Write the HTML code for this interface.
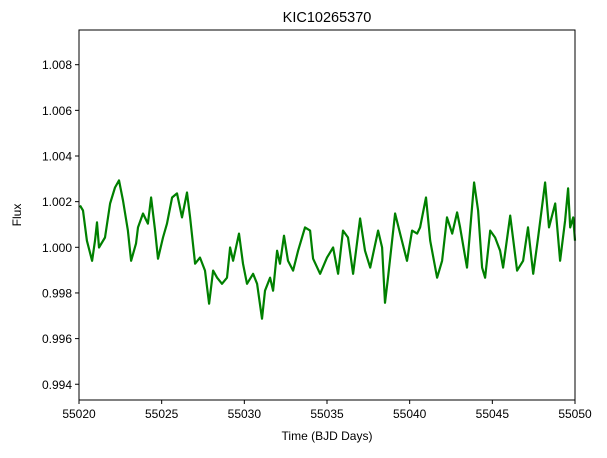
<!DOCTYPE html>
<html><head><meta charset="utf-8"><style>
body{margin:0;background:#fff;}
svg text{font-family:"Liberation Sans","DejaVu Sans",sans-serif;fill:#000;}
</style></head><body>
<svg id="chart" width="607" height="453" viewBox="0 0 607 453">
<rect width="607" height="453" fill="#fff"/>
<text x="327" y="22" font-size="14.5" text-anchor="middle">KIC10265370</text>
<text x="327" y="440" font-size="12" text-anchor="middle">Time (BJD Days)</text>
<text transform="translate(21,215) rotate(-90)" font-size="12" text-anchor="middle">Flux</text>
<g id="plot"></g>
</svg>
<script>
const days=[0.06,0.24,0.48,0.79,0.97,1.09,1.21,1.57,1.88,2.18,2.42,2.66,2.96,3.15,3.45,3.57,3.87,4.17,4.36,4.60,4.78,5.08,5.32,5.63,5.93,6.23,6.53,6.72,7.02,7.32,7.62,7.87,8.11,8.35,8.65,8.95,9.14,9.32,9.68,9.92,10.16,10.53,10.77,11.07,11.25,11.56,11.74,11.98,12.16,12.40,12.64,12.95,13.25,13.67,13.98,14.16,14.58,15.00,15.37,15.67,15.97,16.27,16.58,17.00,17.30,17.61,18.09,18.33,18.51,18.69,19.12,19.42,19.84,20.15,20.45,20.63,20.99,21.24,21.66,21.96,22.26,22.57,22.87,23.05,23.47,23.90,24.14,24.38,24.56,24.87,25.17,25.47,25.65,26.08,26.50,26.86,27.16,27.47,27.77,28.19,28.43,28.80,29.10,29.40,29.58,29.71,29.89,30.00];
const flux=[1.00183,1.00161,1.00029,0.99941,1.00029,1.00109,0.99999,1.00043,1.00192,1.00262,1.00293,1.00205,1.00073,0.99941,1.00016,1.00087,1.00148,1.00104,1.00218,1.00073,0.99950,1.00043,1.00104,1.00218,1.00236,1.00131,1.00240,1.00131,0.99928,0.99955,0.99898,0.99753,0.99898,0.99867,0.99840,0.99867,0.99999,0.99941,1.00060,0.99928,0.99840,0.99884,0.99840,0.99687,0.99810,0.99867,0.99810,0.99985,0.99928,1.00051,0.99941,0.99898,0.99985,1.00087,1.00073,0.99950,0.99884,0.99955,0.99999,0.99884,1.00073,1.00043,0.99884,1.00126,0.99985,0.99911,1.00073,0.99999,0.99757,0.99867,1.00148,1.00060,0.99941,1.00073,1.00060,1.00087,1.00218,1.00029,0.99867,0.99941,1.00131,1.00060,1.00153,1.00087,0.99911,1.00284,1.00161,0.99911,0.99867,1.00073,1.00043,0.99985,0.99911,1.00139,0.99898,0.99941,1.00087,0.99884,1.00043,1.00284,1.00087,1.00192,0.99941,1.00117,1.00258,1.00087,1.00131,1.00029];
const xTicks=[55020,55025,55030,55035,55040,55045,55050];
const yTicks=[0.994,0.996,0.998,1.000,1.002,1.004,1.006,1.008];
const t0=55020;
const L=79,R=575,T=30,B=400;
const xMin=55020,xMax=55050,yMin=0.99331,yMax=1.00952;
const sx=v=>L+(v-xMin)/(xMax-xMin)*(R-L);
const sy=v=>B-(v-yMin)/(yMax-yMin)*(B-T);
const NS='http://www.w3.org/2000/svg';
const g=document.getElementById('plot');
function mk(tag,attrs){const e=document.createElementNS(NS,tag);for(const k in attrs)e.setAttribute(k,attrs[k]);g.appendChild(e);return e;}
let d='';
days.forEach((v,i)=>{d+=(i?'L':'M')+sx(t0+v).toFixed(1)+','+sy(flux[i]).toFixed(1);});
const line=mk('path',{d:d,fill:'none',stroke:'#008000','stroke-width':2.2,'stroke-linejoin':'round'});


const frame=mk('rect',{x:L,y:T,width:R-L,height:B-T,fill:'none',stroke:'#000','stroke-width':1});


xTicks.forEach(v=>{
  const x=sx(v);
  const tk=mk('line',{x1:x,x2:x,y1:B,y2:B+4,stroke:'#000'});
  
  
  const tx=mk('text',{x:x,y:B+18,'font-size':12,'text-anchor':'middle'});
  tx.textContent=v;
  
  
});
yTicks.forEach(v=>{
  const y=sy(v);
  const tk=mk('line',{x1:L-4,x2:L,y1:y,y2:y,stroke:'#000'});
  
  
  const tx=mk('text',{x:L-7,y:y+4.5,'font-size':12,'text-anchor':'end'});
  tx.textContent=v.toFixed(3);
  
  
});
</script>
</body></html>
